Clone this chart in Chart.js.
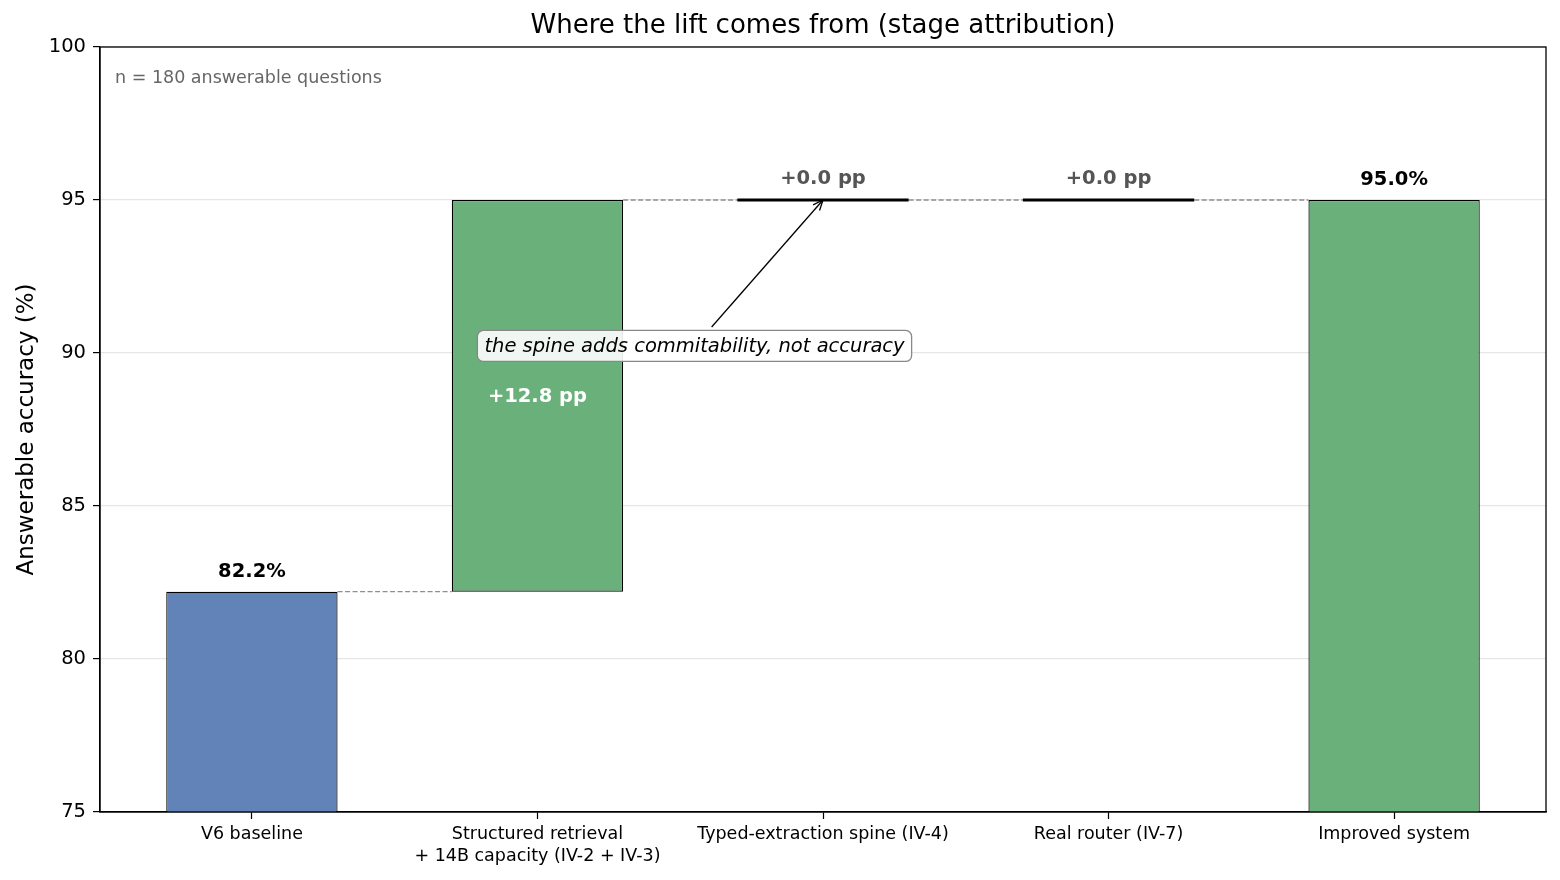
<!DOCTYPE html>
<html>
<head>
<meta charset="utf-8">
<script src="https://cdn.jsdelivr.net/npm/chart.js@4.4.1/dist/chart.umd.min.js"></script>
<style>
  html, body { margin: 0; padding: 0; background: #fff; }
  #wrap { width: 1560px; height: 880px; position: relative; }
</style>
</head>
<body>
<div id="wrap"><canvas id="chart" width="1560" height="880"></canvas></div>
<script>
// stage labels (multi-line where the reference wraps)
const stageLabels = [
    ['V6 baseline'],
    ['Structured retrieval', '+ 14B capacity (IV-2 + IV-3)'],
    ['Typed-extraction spine (IV-4)'],
    ['Real router (IV-7)'],
    ['Improved system']
];
// 'total' bars start at the floor, 'delta' bars float on the running total
const stageKinds = ['total', 'delta', 'delta', 'delta', 'total'];
const stageValues = [82.2, 12.8, 0.0, 0.0, 95.0];
const yTicks = [75, 80, 85, 90, 95, 100];
const chartTitle = 'Where the lift comes from (stage attribution)';
const sampleNote = 'n = 180 answerable questions';
const spineNote = 'the spine adds commitability, not accuracy';

const blue = 'rgb(98, 131, 184)';
const green = 'rgb(106, 176, 122)';
const font = "'DejaVu Sans', sans-serif";

// build the floating ranges from the running total
let running = 0;
const ranges = stageValues.map((v, i) => {
    if (stageKinds[i] === 'total') {
        running = v;
        return [0, v];
    }
    const lo = running;
    running = running + v;
    return [lo, running];
});
const levels = ranges.map(r => r[1]);
const isFlat = (i) => stageKinds[i] === 'delta' && ranges[i][1] - ranges[i][0] === 0;

const barData = ranges.map((r, i) => ({ x: i, y: isFlat(i) ? null : r }));

const datasets = [{
    type: 'bar',
    data: barData,
    backgroundColor: ranges.map((r, i) => i === 0 ? blue : green),
    borderColor: '#000',
    borderWidth: 1.2,
    borderSkipped: false,
    barPercentage: 0.6,
    categoryPercentage: 1.0,
    order: 2
}];

// zero-change stages: a flat black stroke at the running total
ranges.forEach((r, i) => {
    if (isFlat(i)) {
        datasets.push({
            type: 'line',
            data: [{ x: i - 0.3, y: r[1] }, { x: i + 0.3, y: r[1] }],
            borderColor: '#000',
            borderWidth: 3,
            pointRadius: 0,
            order: 0
        });
    }
});

// dashed connectors between neighbouring stages
for (let i = 0; i < levels.length - 1; i++) {
    datasets.push({
        type: 'line',
        data: [{ x: i + 0.3, y: levels[i] }, { x: i + 0.7, y: levels[i] }],
        borderColor: '#8f8f8f',
        borderWidth: 1.3,
        borderDash: [5, 2.5],
        pointRadius: 0,
        order: 1
    });
}

// title, value labels, annotation box and the frame
const extras = {
    id: 'extras',
    afterDatasetsDraw(chart) {
        const ctx = chart.ctx;
        const xs = chart.scales.x, ys = chart.scales.y;
        const a = chart.chartArea;
        ctx.save();

        // title centred over the plot area
        ctx.textAlign = 'center';
        ctx.textBaseline = 'middle';
        ctx.fillStyle = '#000';
        ctx.font = '26px ' + font;
        ctx.fillText(chartTitle, (a.left + a.right) / 2, 26);

        ctx.font = 'bold 19.5px ' + font;
        ranges.forEach((r, i) => {
            const cx = xs.getPixelForValue(i);
            ctx.textBaseline = 'alphabetic';
            if (stageKinds[i] === 'total') {
                ctx.fillStyle = '#000';
                ctx.fillText(stageValues[i].toFixed(1) + '%', cx, ys.getPixelForValue(r[1]) - 15);
            } else if (isFlat(i)) {
                ctx.fillStyle = '#555';
                ctx.fillText('+' + stageValues[i].toFixed(1) + ' pp', cx, ys.getPixelForValue(r[1]) - 16);
            } else {
                ctx.fillStyle = '#fff';
                ctx.textBaseline = 'middle';
                ctx.fillText('+' + stageValues[i].toFixed(1) + ' pp', cx, ys.getPixelForValue((r[0] + r[1]) / 2) + 1);
            }
        });

        // arrow from the note to the spine stage
        const tipX = xs.getPixelForValue(2), tipY = ys.getPixelForValue(levels[2]);
        const tailX = xs.getPixelForValue(1.61), tailY = ys.getPixelForValue(90.85);
        ctx.strokeStyle = '#000';
        ctx.lineWidth = 1.3;
        ctx.beginPath();
        ctx.moveTo(tailX, tailY);
        ctx.lineTo(tipX, tipY);
        ctx.stroke();
        const ang = Math.atan2(tipY - tailY, tipX - tailX);
        ctx.beginPath();
        ctx.moveTo(tipX - 11 * Math.cos(ang - 0.4), tipY - 11 * Math.sin(ang - 0.4));
        ctx.lineTo(tipX, tipY);
        ctx.lineTo(tipX - 11 * Math.cos(ang + 0.4), tipY - 11 * Math.sin(ang + 0.4));
        ctx.stroke();

        // note box
        ctx.font = 'italic 19.5px ' + font;
        const nx = xs.getPixelForValue(1.55), ny = ys.getPixelForValue(90.23);
        const tw = ctx.measureText(spineNote).width;
        const bw = tw + 14, bh = 31;
        ctx.fillStyle = 'rgba(255,255,255,0.9)';
        ctx.strokeStyle = '#888';
        ctx.lineWidth = 1.3;
        ctx.beginPath();
        ctx.roundRect(nx - bw / 2, ny - bh / 2, bw, bh, 6);
        ctx.fill();
        ctx.stroke();
        ctx.fillStyle = '#000';
        ctx.textAlign = 'center';
        ctx.textBaseline = 'middle';
        ctx.fillText(spineNote, nx, ny + 1);

        // sample size note
        ctx.textAlign = 'left';
        ctx.fillStyle = '#666';
        ctx.font = '17.5px ' + font;
        ctx.fillText(sampleNote, a.left + 15, a.top + 31);

        // frame
        ctx.strokeStyle = '#000';
        ctx.lineWidth = 1.3;
        ctx.strokeRect(a.left, a.top, a.right - a.left, a.bottom - a.top);
        ctx.restore();
    }
};

new Chart(document.getElementById('chart'), {
    type: 'bar',
    data: { datasets: datasets },
    options: {
        responsive: false,
        animation: false,
        layout: { padding: { top: 47, right: 14, left: 0, bottom: 0 } },
        plugins: {
            legend: { display: false },
            tooltip: { enabled: false },
            title: { display: false }
        },
        scales: {
            x: {
                type: 'linear',
                offset: false,
                min: -0.532,
                max: 4.532,
                afterBuildTicks(scale) {
                    scale.ticks = stageLabels.map((l, i) => ({ value: i }));
                },
                afterFit(scale) { scale.height = 68; },
                ticks: {
                    color: '#000',
                    font: { family: font, size: 17.5, lineHeight: 1.25 },
                    padding: 5,
                    maxRotation: 0,
                    autoSkip: false,
                    callback: (v) => stageLabels[Math.round(v)]
                },
                grid: { offset: false, drawOnChartArea: false, drawTicks: true, tickLength: 7, tickColor: '#000', tickWidth: 1.2 },
                border: { color: '#000', width: 1.3 }
            },
            y: {
                min: 75,
                max: 100,
                afterBuildTicks(scale) {
                    scale.ticks = yTicks.map(v => ({ value: v }));
                },
                afterFit(scale) { scale.width = 100; },
                ticks: {
                    color: '#000',
                    font: { family: font, size: 19.5 },
                    padding: 7
                },
                title: {
                    display: true,
                    text: 'Answerable accuracy (%)',
                    color: '#000',
                    font: { family: font, size: 23 },
                    padding: { top: 13, bottom: 4 }
                },
                grid: { color: '#e6e6e6', lineWidth: 1.2, tickLength: 7, tickColor: '#000', tickWidth: 1.2 },
                border: { color: '#000', width: 1.3 }
            }
        }
    },
    plugins: [extras]
});
</script>
</body>
</html>
